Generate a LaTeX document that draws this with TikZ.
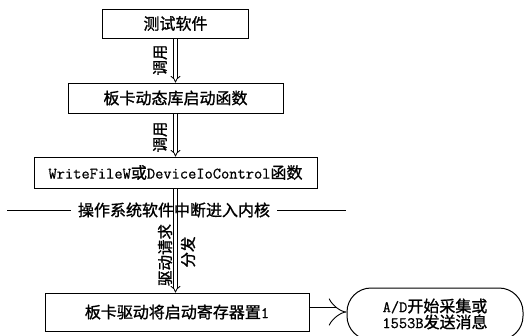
\documentclass[tikz,border=0pt]{standalone}
\usepackage{fontspec}
\newfontfamily\cjk{Noto Sans CJK SC}[FakeBold=1.2]
\setmonofont{Latin Modern Mono}[FakeBold=0.8]
\usetikzlibrary{arrows.meta}
\tikzset{
  box/.style={draw, line width=1pt, inner sep=0pt, font=\cjk\fontsize{16}{18}\selectfont},
  dblv/.style={double, double distance=2.6pt, line width=0.8pt, -{Implies}},
  dblh/.style={double, double distance=9pt, line width=0.9pt, -{Implies}},
  lbl/.style={rotate=90, font=\cjk\fontsize{15.5}{17}\selectfont, inner sep=0pt},
  divtxt/.style={font=\cjk\fontsize{16}{18}\selectfont, inner sep=7pt},
}
\begin{document}
\begin{tikzpicture}[x=1pt, y=-1pt]
\useasboundingbox (0,0) rectangle (526,335);
\node[box, minimum width=146, minimum height=29] (b1) at (175.5,23.5) {测试软件};
\node[box, minimum width=215, minimum height=30] (b2) at (175.5,98) {板卡动态库启动函数};
\node[box, minimum width=283, minimum height=31] (b3) at (175.5,172.5) {{\ttfamily WriteFileW}或{\ttfamily DeviceIoControl}函数};
\node[box, minimum width=264, minimum height=38] (b4) at (177,312) {板卡驱动将启动寄存器置{\ttfamily 1}};
\node[draw, line width=1pt, rounded corners=24pt, minimum width=176, minimum height=52, inner sep=0pt, align=center,
      font=\cjk\fontsize{16}{14.5}\selectfont] (st) at (435,314) {{\ttfamily A/D}开始采集或\\{\ttfamily 1553B}发送消息};
\draw[dblv] (b1.south) -- (b2.north);
\draw[dblv] (b2.south) -- (b3.north);
\draw[dblv] (b3.south) -- (b3.south |- b4.north);
\draw[dblh] (b4.east) -- (b4.east -| st.west);
\node[lbl] (l1) at (160,60) {调用};
\node[lbl] (l2) at (160,137) {调用};
\node[lbl] (l3) at (165,255) {驱动请求};
\node[lbl] (l4) at (188,252) {分发};
\node[divtxt] (dv) at (174,210) {操作系统软件中断进入内核};
\coordinate (dl) at (7,210);
\coordinate (dr) at (346,210);
\draw[line width=0.9pt] (dl) -- (dv.west);
\draw[line width=0.9pt] (dv.east) -- (dr);
\end{tikzpicture}
\end{document}
